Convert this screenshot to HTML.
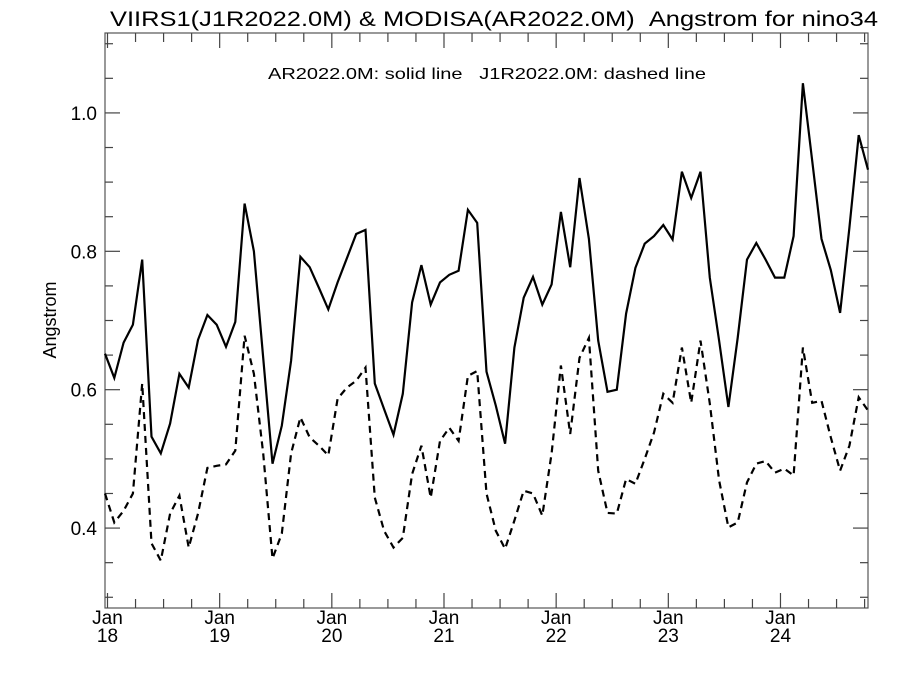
<!DOCTYPE html>
<html><head><meta charset="utf-8"><style>
html,body{margin:0;padding:0;background:#fff;}
svg{display:block;font-family:"Liberation Sans",sans-serif;}
</style></head><body>
<svg id="chart" width="900" height="675" viewBox="0 0 900 675" xmlns="http://www.w3.org/2000/svg">
<text x="110" y="26" font-size="21" textLength="768" lengthAdjust="spacingAndGlyphs">VIIRS1(J1R2022.0M) &amp; MODISA(AR2022.0M)&#160;&#160;Angstrom for nino34</text>
<text x="268" y="79" font-size="16" textLength="438" lengthAdjust="spacingAndGlyphs">AR2022.0M: solid line&#160;&#160;&#160;J1R2022.0M: dashed line</text>
<text transform="translate(56,320) rotate(-90)" text-anchor="middle" font-size="18">Angstrom</text>
<rect x="105" y="33" width="763" height="575" fill="none" stroke="#555" stroke-width="1.2"/>
<g id="axes"></g>
<g id="series"></g>
</svg>
<script>
const solidValues=[0.652,0.617,0.668,0.694,0.788,0.532,0.508,0.551,0.623,0.603,0.672,0.708,0.694,0.662,0.698,0.869,0.800,0.646,0.493,0.548,0.642,0.792,0.777,0.747,0.716,0.755,0.790,0.825,0.831,0.609,0.572,0.535,0.594,0.726,0.780,0.723,0.755,0.766,0.772,0.860,0.841,0.626,0.577,0.522,0.661,0.733,0.763,0.723,0.752,0.857,0.777,0.906,0.818,0.671,0.597,0.600,0.710,0.776,0.811,0.822,0.838,0.817,0.915,0.877,0.915,0.762,0.671,0.575,0.675,0.788,0.812,0.788,0.762,0.762,0.822,1.043,0.931,0.818,0.773,0.711,0.834,0.968,0.918];
const dashedValues=[0.450,0.408,0.425,0.450,0.609,0.378,0.353,0.421,0.447,0.372,0.421,0.487,0.490,0.492,0.512,0.678,0.623,0.508,0.356,0.392,0.508,0.560,0.531,0.519,0.505,0.587,0.603,0.613,0.632,0.444,0.396,0.372,0.386,0.478,0.519,0.444,0.526,0.545,0.526,0.620,0.627,0.450,0.396,0.370,0.411,0.454,0.450,0.418,0.508,0.635,0.536,0.646,0.675,0.483,0.422,0.421,0.471,0.464,0.500,0.538,0.594,0.581,0.661,0.581,0.671,0.580,0.469,0.401,0.408,0.466,0.493,0.497,0.480,0.486,0.476,0.661,0.581,0.584,0.531,0.483,0.519,0.589,0.570];
const yTickLabels=["0.4","0.6","0.8","1.0"];
const xTickMonths=["Jan","Jan","Jan","Jan","Jan","Jan","Jan"];
const xTickYears=["18","19","20","21","22","23","24"];

const NS="http://www.w3.org/2000/svg";
const X0=105,X1=868,Y0=608,Y1=33;
const yMin=0.2845,yMax=1.1155;
const nPts=solidValues.length;
function xScale(i){return X0+i*(X1-X0)/(nPts-1);}
function xMonth(m){return 107.5+m*9.347;}
function yScale(v){return Y0-(v-yMin)/(yMax-yMin)*(Y0-Y1);}
function mk(tag,attrs,parent){const e=document.createElementNS(NS,tag);for(const k in attrs)e.setAttribute(k,attrs[k]);parent.appendChild(e);return e;}
const axes=document.getElementById('axes');
const series=document.getElementById('series');
for(let k=6;k<=22;k++){
  const v=k*0.05; if(v<yMin||v>yMax)continue;
  const y=yScale(v);
  const major=(k%4===0);
  const len=major?15:8;
  const t1=mk('line',{x1:X0,x2:X0+len,y1:y,y2:y,stroke:'#444','stroke-width':1.2},axes);
  
  
  const t2=mk('line',{x1:X1,x2:X1-len,y1:y,y2:y,stroke:'#444','stroke-width':1.2},axes);
  
  
}
yTickLabels.forEach(s=>{
  const t=mk('text',{x:97,y:yScale(parseFloat(s))+7,'text-anchor':'end','font-size':19},axes);
  t.textContent=s;
  
  
});
for(let m=0;m*9.347+107.5<=X1;m+=3){
  const x=xMonth(m);
  const len=(m%12===0)?15:9;
  const a=mk('line',{x1:x,x2:x,y1:Y0,y2:Y0-len,stroke:'#444','stroke-width':1.2},axes);
  
  
  const b=mk('line',{x1:x,x2:x,y1:Y1,y2:Y1+len,stroke:'#444','stroke-width':1.2},axes);
  
  
}
xTickMonths.forEach((s,k)=>{
  const x=xMonth(k*12);
  const t=mk('text',{x:x,y:624,'text-anchor':'middle','font-size':19},axes);
  t.textContent=s;
  
  
  const u=mk('text',{x:x,y:642,'text-anchor':'middle','font-size':19},axes);
  u.textContent=xTickYears[k];
  
  
});
function pts(arr){return arr.map((v,i)=>xScale(i).toFixed(1)+','+yScale(v).toFixed(1)).join(' ');}
const s1=mk('polyline',{points:pts(solidValues),fill:'none',stroke:'#000','stroke-width':2.2,'stroke-linejoin':'miter'},series);


const s2=mk('polyline',{points:pts(dashedValues),fill:'none',stroke:'#000','stroke-width':2.2,'stroke-dasharray':'7,5'},series);


</script>
</body></html>
